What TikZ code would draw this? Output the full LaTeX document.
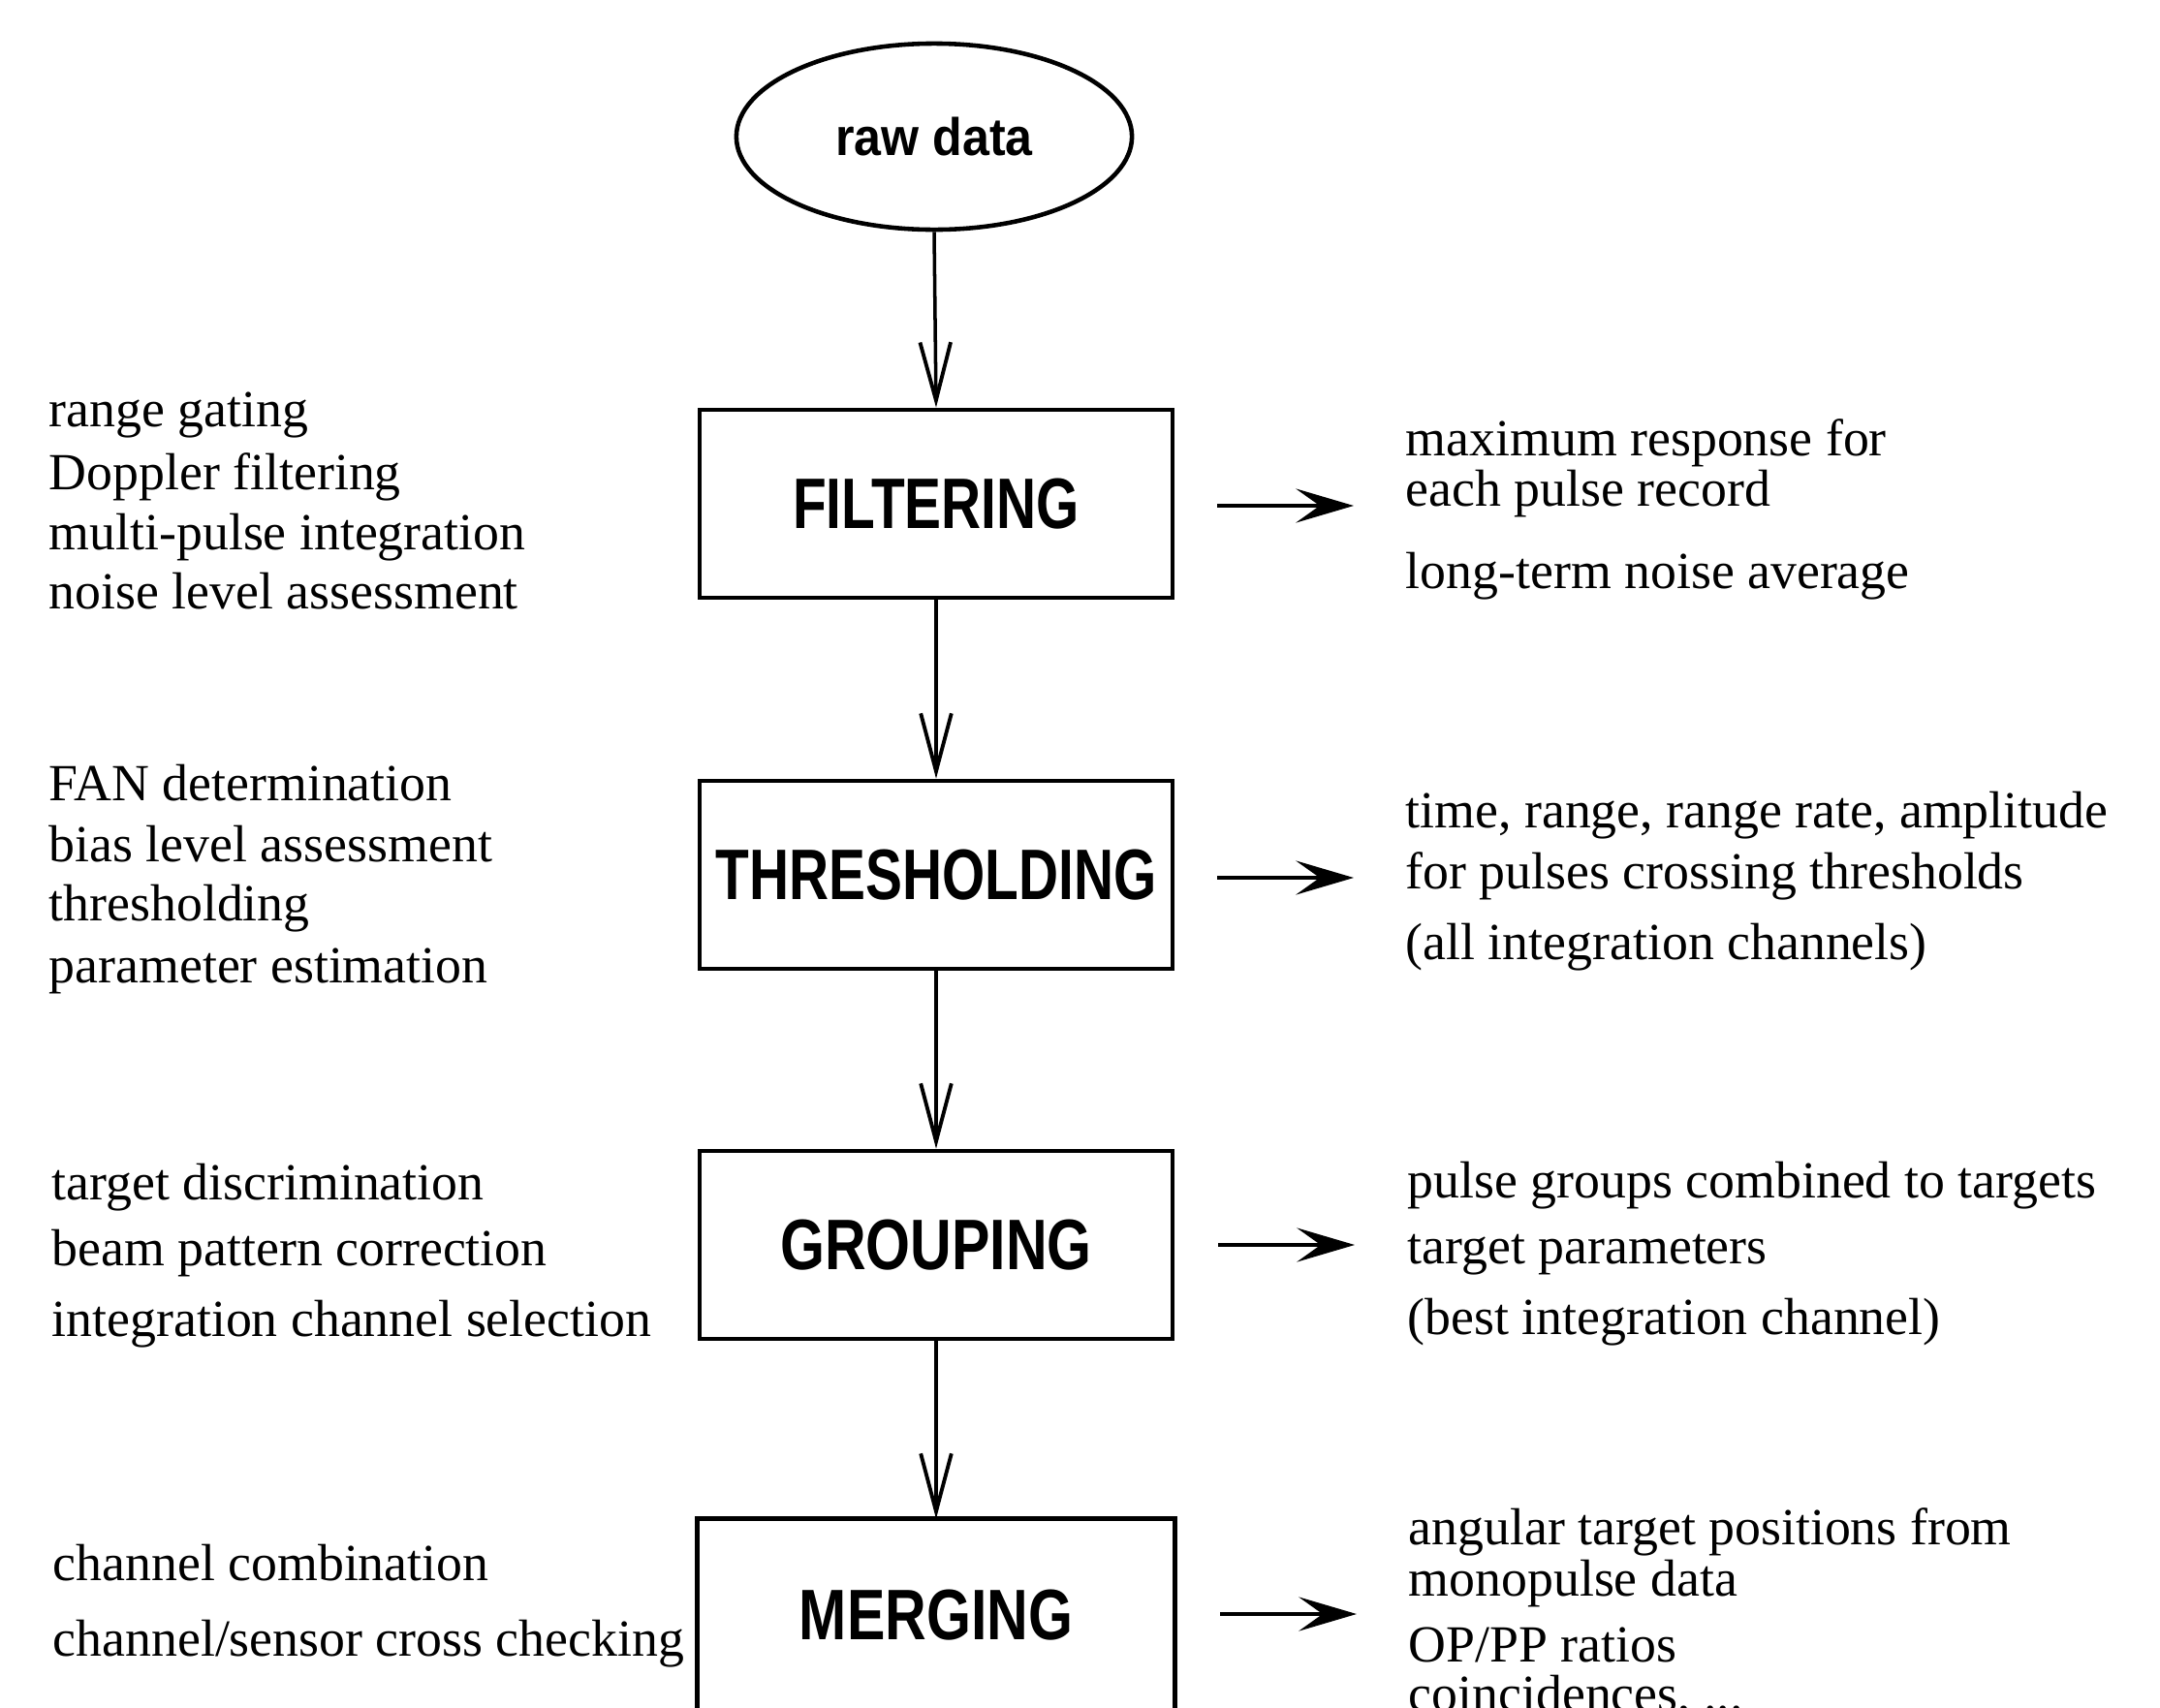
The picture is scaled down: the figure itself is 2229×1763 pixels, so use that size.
\documentclass[tikz,border=0pt]{standalone}
\usepackage{graphicx}
\usepackage{fontspec}
\setmainfont{Liberation Serif}
\newfontfamily\sansf{Liberation Sans}
\usetikzlibrary{arrows.meta,shapes.geometric}
\begin{document}
\begin{tikzpicture}[x=0.01cm,y=-0.01cm,
  stage/.style={draw,line width=1.3pt,minimum width=4.88cm,minimum height=1.94cm,inner sep=0pt,
    font=\sansf\bfseries\fontsize{21}{21}\selectfont},
  txt/.style={anchor=base west,inner sep=0pt,font=\fontsize{15.3}{18}\selectfont},
  down/.style={line width=1pt,-{Straight Barb[length=17pt,width=9pt,line width=1.1pt]}},
  outarr/.style={line width=1.1pt,-{Stealth[length=17pt,width=10pt,inset=7pt]}}]
\useasboundingbox (0,0) rectangle (2229,1763);
\clip (0,0) rectangle (2229,1763);
% central column
\node[draw,ellipse,line width=1.3pt,minimum width=4.08cm,minimum height=1.92cm,inner sep=0pt,
  font=\sansf\bfseries\fontsize{15.5}{16}\selectfont] (raw) at (964,141) {\scalebox{0.92}[1]{raw data}};
\node[stage] (filt) at (966,520) {\scalebox{0.77}[1]{FILTERING}};
\node[stage] (thr)  at (966,903) {\scalebox{0.77}[1]{THRESHOLDING}};
\node[stage] (grp)  at (966,1285) {\scalebox{0.8}[1]{GROUPING}};
\node[stage,draw=none] (mrg) at (966,1667) {\scalebox{0.8}[1]{MERGING}};
\draw[line width=1.3pt] (mrg.north west) ++(0,300) -- (mrg.north west) -- (mrg.north east) -- ++(0,300);
\draw[down] (raw.south) -- (filt.north);
\draw[down] (filt.south) -- (thr.north);
\draw[down] (thr.south) -- (grp.north);
\draw[down] (grp.south) -- (mrg.north);
% output arrows
\coordinate (o1s) at (1256,522); \coordinate (o1e) at (1397,522);
\coordinate (o2s) at (1256,906); \coordinate (o2e) at (1397,906);
\coordinate (o3s) at (1257,1285); \coordinate (o3e) at (1398,1285);
\coordinate (o4s) at (1259,1666); \coordinate (o4e) at (1400,1666);
\draw[outarr] (o1s) -- (o1e);
\draw[outarr] (o2s) -- (o2e);
\draw[outarr] (o3s) -- (o3e);
\draw[outarr] (o4s) -- (o4e);
% left texts
\node[txt] (l1) at (50,440) {range gating};
\node[txt] (l2) at (50,505) {Doppler filtering};
\node[txt] (l3) at (50,567) {multi-pulse integration};
\node[txt] (l4) at (50,628) {noise level assessment};
\node[txt] (l5) at (50,826) {FAN determination};
\node[txt] (l6) at (50,889) {bias level assessment};
\node[txt] (l7) at (50,950) {thresholding};
\node[txt] (l8) at (50,1014) {parameter estimation};
\node[txt] (l9) at (53,1238) {target discrimination};
\node[txt] (l10) at (53,1306) {beam pattern correction};
\node[txt] (l11) at (53,1379) {integration channel selection};
\node[txt] (l12) at (54,1631) {channel combination};
\node[txt] (l13) at (54,1709) {channel/sensor cross checking};
% right texts
\node[txt] (r1) at (1450,470) {maximum response for};
\node[txt] (r2) at (1450,522) {each pulse record};
\node[txt] (r3) at (1450,607) {long-term noise average};
\node[txt] (r4) at (1450,854) {time, range, range rate, amplitude};
\node[txt] (r5) at (1450,917) {for pulses crossing thresholds};
\node[txt] (r6) at (1450,990) {(all integration channels)};
\node[txt] (r7) at (1452,1236) {pulse groups combined to targets};
\node[txt] (r8) at (1452,1304) {target parameters};
\node[txt] (r9) at (1452,1377) {(best integration channel)};
\node[txt] (r10) at (1453,1594) {angular target positions from};
\node[txt] (r11) at (1453,1647) {monopulse data};
\node[txt] (r12) at (1453,1715) {OP/PP ratios};
\node[txt] (r13) at (1453,1766) {coincidences, ...};
\end{tikzpicture}
\end{document}
